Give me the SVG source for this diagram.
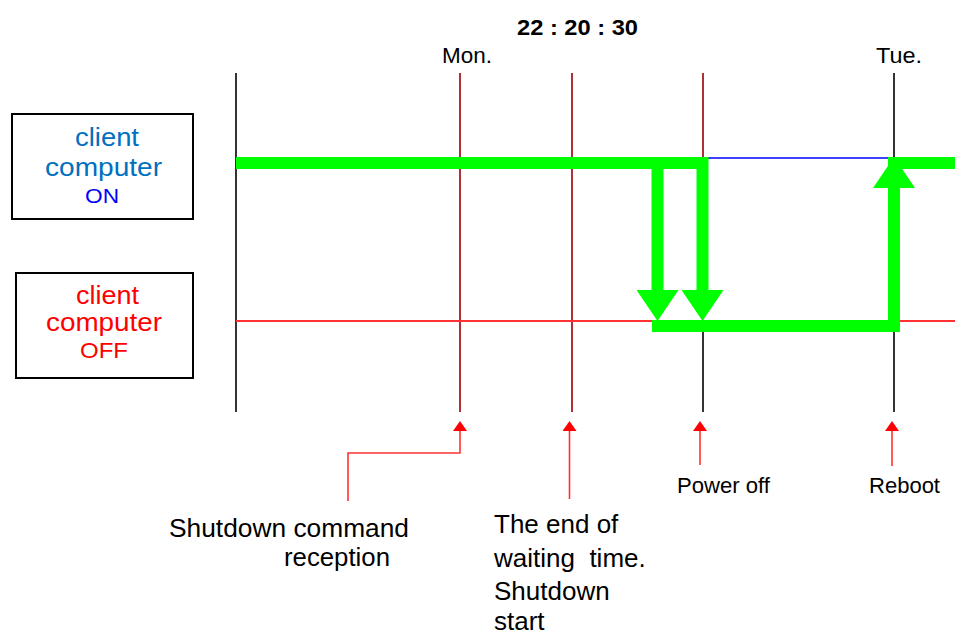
<svg xmlns="http://www.w3.org/2000/svg" width="955" height="635" viewBox="0 0 955 635">
  <style>
    text { font-family: "Liberation Sans", Arial, sans-serif; }
    .lbl { font-size: 25px; fill: #000; }
    .lbl2 { font-size: 26px; fill: #000; }
    .sm { font-size: 22px; fill: #000; }
    .box { fill: #fff; stroke: #000; stroke-width: 2; }
    .axis { stroke: #000; stroke-width: 1.6; fill: none; }
    .tick { stroke: #990000; stroke-width: 1.6; fill: none; }
    .green { stroke: #00FF00; stroke-width: 12; fill: none; stroke-linejoin: miter; stroke-linecap: butt; }
    .ptr { stroke: #FF3333; stroke-width: 1.6; fill: none; marker-end: url(#redHead); }
    .on { fill: #0070C0; }
  </style>
  <defs>
    <marker id="redHead" markerUnits="userSpaceOnUse" markerWidth="10" markerHeight="14" viewBox="0 0 10 14" refX="0" refY="7" orient="auto">
      <path d="M0,0 L10,7 L0,14 Z" fill="#FF0000"/>
    </marker>
    <marker id="greenHead" markerUnits="userSpaceOnUse" markerWidth="31" markerHeight="42" viewBox="0 0 31 42" refX="0" refY="21" orient="auto">
      <path d="M0,0 L31,21 L0,42 Z" fill="#00FF00"/>
    </marker>
  </defs>

  <g id="time-header">
    <text x="517" y="35" font-size="22" font-weight="bold" textLength="121" lengthAdjust="spacingAndGlyphs">22 : 20 : 30</text>
    <text x="442" y="63" class="sm" textLength="50" lengthAdjust="spacingAndGlyphs">Mon.</text>
    <text x="876" y="63" class="sm" textLength="46" lengthAdjust="spacingAndGlyphs">Tue.</text>
  </g>

  <g id="timeline">
    <line class="axis" x1="236" y1="73" x2="236" y2="412"/>
    <line class="tick" x1="460" y1="73" x2="460" y2="412"/>
    <line class="tick" x1="572" y1="73" x2="572" y2="412"/>
    <line class="tick" x1="703" y1="73" x2="703" y2="163"/>
    <line class="axis" x1="703" y1="326" x2="703" y2="412"/>
    <line class="axis" x1="894" y1="73" x2="894" y2="412"/>
    <line x1="708" y1="158" x2="893" y2="158" stroke="#0000FF" stroke-width="1.4"/>
    <line x1="236" y1="321" x2="955" y2="321" stroke="#FF3333" stroke-width="2"/>
  </g>

  <g id="node-on">
    <rect class="box" x="12" y="114" width="181" height="105"/>
    <text x="75" y="145.5" font-size="25" class="on" textLength="64" lengthAdjust="spacingAndGlyphs">client</text>
    <text x="45" y="176" font-size="25" class="on" textLength="117" lengthAdjust="spacingAndGlyphs">computer</text>
    <text x="85" y="203" font-size="21" fill="#0000FF" textLength="34" lengthAdjust="spacingAndGlyphs">ON</text>
  </g>

  <g id="node-off">
    <rect class="box" x="16" y="273" width="177" height="105"/>
    <text x="76" y="304" font-size="25" fill="#FF0000" textLength="63" lengthAdjust="spacingAndGlyphs">client</text>
    <text x="46" y="331" font-size="25" fill="#FF0000" textLength="116" lengthAdjust="spacingAndGlyphs">computer</text>
    <text x="80" y="358" font-size="22" fill="#FF0000" textLength="48" lengthAdjust="spacingAndGlyphs">OFF</text>
  </g>

  <g id="connectors">
    <!-- state transitions (green) -->
    <path class="green" d="M236,163 H702.5 V290" marker-end="url(#greenHead)"/>
    <path class="green" d="M657.5,163 V290" marker-end="url(#greenHead)"/>
    <path class="green" d="M652,326 H894 V188" marker-end="url(#greenHead)"/>
    <path class="green" d="M888,163 H955"/>
    <!-- event pointers (red) -->
    <path class="ptr" d="M348,501 V453 H460 V431"/>
    <path class="ptr" d="M569.5,499 V431"/>
    <path class="ptr" d="M700,465 V431"/>
    <path class="ptr" d="M892,466 V431"/>
  </g>

  <g id="label-shutdown-command">
    <text x="169" y="536.5" class="lbl" textLength="240" lengthAdjust="spacingAndGlyphs">Shutdown command</text>
    <text x="284" y="566" class="lbl" textLength="106" lengthAdjust="spacingAndGlyphs">reception</text>
  </g>

  <g id="label-end-waiting">
    <text x="494" y="533" class="lbl2">The end of</text>
    <text x="494" y="566.5" class="lbl2" xml:space="preserve">waiting  time.</text>
    <text x="494" y="600" class="lbl2">Shutdown</text>
    <text x="494" y="630" class="lbl2">start</text>
  </g>

  <g id="label-power-off">
    <text x="677" y="492.5" class="sm" textLength="93" lengthAdjust="spacingAndGlyphs">Power off</text>
  </g>

  <g id="label-reboot">
    <text x="869" y="492.5" class="sm" textLength="71" lengthAdjust="spacingAndGlyphs">Reboot</text>
  </g>
</svg>
